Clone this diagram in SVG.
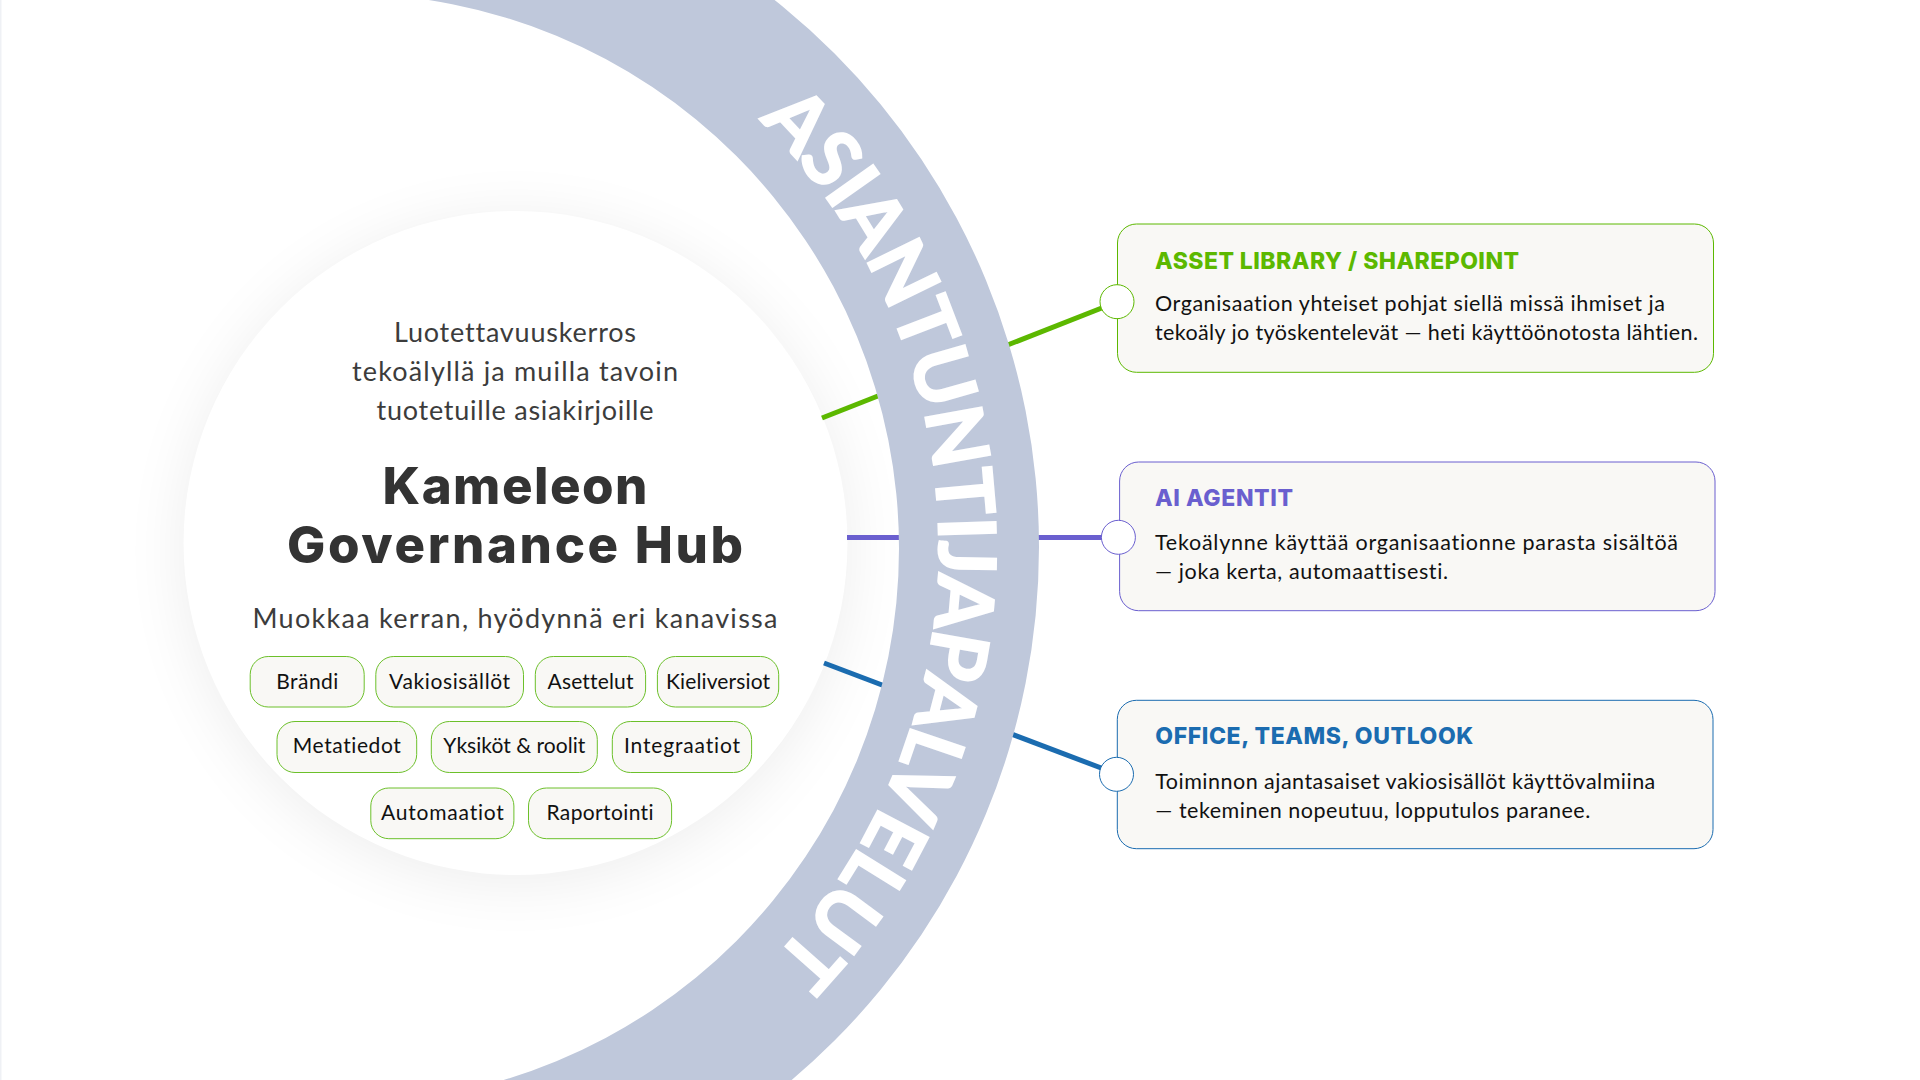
<svg xmlns="http://www.w3.org/2000/svg" width="1920" height="1080" viewBox="0 0 1920 1080">
<defs>
<filter id="soft" x="-40%" y="-40%" width="180%" height="180%"><feGaussianBlur stdDeviation="32"/></filter>
<path id="ringPath" d="M640.5 30 A597 597 0 0 1 640.5 1064"/>
</defs>
<style>
text{font-family:"Lato","Liberation Sans",sans-serif;font-variant-ligatures:none}
.sub{font-size:27px;fill:#3c3c3c;text-anchor:middle}
.hub{font-family:"Inter","Liberation Sans",sans-serif;font-size:51px;font-weight:800;fill:#333;text-anchor:middle}
.ring-t{font-size:79px;font-weight:700;fill:#fff;stroke:#fff;stroke-width:2}
.pill rect{fill:#f9f8f5;stroke:#6cc02a;stroke-width:1}
.pill text{font-size:21px;fill:#111;text-anchor:middle}
.card{fill:#f9f8f5;stroke-width:1}
.dot{fill:#fff;stroke-width:1}
.title{font-family:"Inter","Liberation Sans",sans-serif;font-size:23px;font-weight:800}
.body{font-size:21.5px;fill:#111}
.cn{fill:none;stroke-width:5}
.g{stroke:#5cb800}.p{stroke:#6a5fcf}.b{stroke:#1b6cb0}
</style>
<rect width="1920" height="1080" fill="#fff"/>
<rect width="1.5" height="1080" fill="#eff1f5"/>
<circle cx="515.5" cy="551" r="332" fill="#000" opacity="0.07" filter="url(#soft)"/>
<g id="hub-disc"><circle cx="515.5" cy="543" r="332" fill="#fff"/></g>
<g id="connectors">
<line class="cn g" x1="822" y1="418" x2="1117" y2="302"/>
<line class="cn p" x1="847" y1="537.5" x2="1118" y2="537.5"/>
<line class="cn b" x1="824" y1="663" x2="1117" y2="774"/>
</g>
<g id="ring">
<path d="M341 -151 A698 698 0 0 1 341 1245 L344 1103.5 A555 555 0 0 0 344 -6.5 Z" fill="#bfc8db"/>
<text class="ring-t" textLength="932"><textPath href="#ringPath" startOffset="149">ASIANTUNTIJAPALVELUT</textPath></text>
</g>
<g id="hub-text">
<text class="sub" x="515" y="342" textLength="242">Luotettavuuskerros</text>
<text class="sub" x="515" y="381" textLength="326">tekoälyllä ja muilla tavoin</text>
<text class="sub" x="515" y="420" textLength="277">tuotetuille asiakirjoille</text>
<text class="hub" x="515" y="504" textLength="265">Kameleon</text>
<text class="hub" x="515" y="563" textLength="456">Governance Hub</text>
<text class="sub" x="515" y="628" textLength="525">Muokkaa kerran, hyödynnä eri kanavissa</text>
</g>
<g id="pill-brandi" class="pill"><rect x="250.2" y="656.5" width="114" height="50.5" rx="18"/><text x="307.3" y="688.5" textLength="62">Brändi</text></g>
<g id="pill-vakio" class="pill"><rect x="375.8" y="656.5" width="147.7" height="50.5" rx="18"/><text x="449.6" y="688.5" textLength="121">Vakiosisällöt</text></g>
<g id="pill-asettelut" class="pill"><rect x="535.3" y="656.5" width="110.3" height="50.5" rx="18"/><text x="590.5" y="688.5" textLength="86">Asettelut</text></g>
<g id="pill-kieli" class="pill"><rect x="657.4" y="656.5" width="121.3" height="50.5" rx="18"/><text x="718" y="688.5" textLength="104">Kieliversiot</text></g>
<g id="pill-meta" class="pill"><rect x="277" y="721.5" width="139.7" height="51" rx="18"/><text x="346.8" y="753" textLength="108">Metatiedot</text></g>
<g id="pill-yksikot" class="pill"><rect x="431.3" y="721.5" width="166" height="51" rx="18"/><text x="514.3" y="753" textLength="142">Yksiköt &amp; roolit</text></g>
<g id="pill-integ" class="pill"><rect x="612.3" y="721.5" width="139.3" height="51" rx="18"/><text x="682" y="753" textLength="116">Integraatiot</text></g>
<g id="pill-auto" class="pill"><rect x="370.8" y="788" width="143.1" height="50.7" rx="18"/><text x="442.4" y="820" textLength="123">Automaatiot</text></g>
<g id="pill-raportointi" class="pill"><rect x="528.5" y="788" width="143.1" height="50.7" rx="18"/><text x="600" y="820" textLength="107">Raportointi</text></g>
<g id="card-asset">
<rect class="card g" x="1117.5" y="224" width="596" height="148.3" rx="19"/>
<circle class="dot g" cx="1117" cy="301.7" r="17"/>
<text class="title" x="1155" y="269" fill="#5cb800" textLength="364">ASSET LIBRARY / SHAREPOINT</text>
<text class="body" x="1155" y="311" textLength="510">Organisaation yhteiset pohjat siellä missä ihmiset ja</text>
<text class="body" x="1155" y="340" textLength="543">tekoäly jo työskentelevät — heti käyttöönotosta lähtien.</text>
</g>
<g id="card-ai">
<rect class="card p" x="1119.6" y="462" width="595.4" height="148.7" rx="19"/>
<circle class="dot p" cx="1118.4" cy="537.3" r="17"/>
<text class="title" x="1155" y="506" fill="#6a5fcf" textLength="138">AI AGENTIT</text>
<text class="body" x="1155" y="550" textLength="523">Tekoälynne käyttää organisaationne parasta sisältöä</text>
<text class="body" x="1155" y="579" textLength="293">— joka kerta, automaattisesti.</text>
</g>
<g id="card-office">
<rect class="card b" x="1117.3" y="700.3" width="595.7" height="148.4" rx="19"/>
<circle class="dot b" cx="1116.5" cy="774.3" r="17"/>
<text class="title" x="1155.3" y="743.5" fill="#1b6cb0" textLength="318">OFFICE, TEAMS, OUTLOOK</text>
<text class="body" x="1155.3" y="788.7" textLength="500">Toiminnon ajantasaiset vakiosisällöt käyttövalmiina</text>
<text class="body" x="1155.3" y="818.3" textLength="435">— tekeminen nopeutuu, lopputulos paranee.</text>
</g>
</svg>
